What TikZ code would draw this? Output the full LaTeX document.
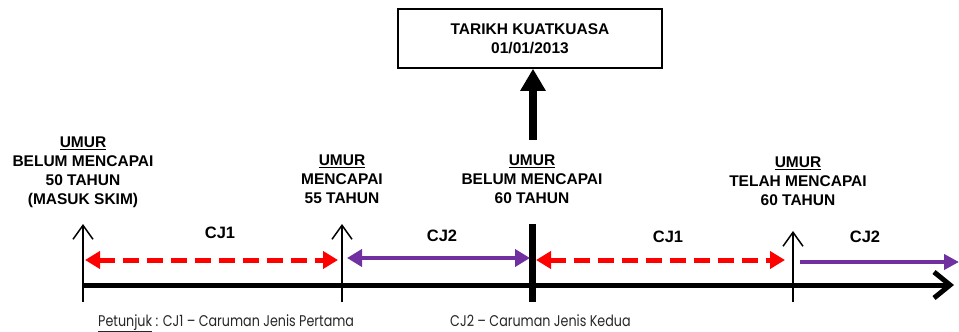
\documentclass[tikz,border=0pt]{standalone}
\usepackage{fontspec}
\setmainfont{Liberation Sans}
\newfontfamily\footfont{Poppins}
\usetikzlibrary{arrows.meta}
\definecolor{cjred}{HTML}{FF0000}
\definecolor{cjpurple}{HTML}{7030A0}
\begin{document}
\begin{tikzpicture}[x=1pt,y=-1pt,
  lbl/.style={font=\bfseries\fontsize{15.5}{19}\selectfont, align=center, inner sep=0pt},
  cjlbl/.style={font=\bfseries\fontsize{16.5}{19}\selectfont, inner sep=0pt},
  foot/.style={font=\footfont\fontsize{15.5}{16}\selectfont, inner sep=0pt, anchor=base west, text=black!85},
  tickarrow/.style={line width=1.5pt, -{Straight Barb[length=14pt,width=20pt,line width=1.5pt]}},
  redarrow/.style={cjred, line width=5pt, dash pattern=on 16pt off 8pt,
    {Triangle[length=15pt,width=17pt]}-{Triangle[length=15pt,width=17pt]}},
  purplearrow/.style={cjpurple, line width=4.5pt,
    {Triangle[length=15pt,width=17pt]}-{Triangle[length=15pt,width=17pt]}},
  purpleone/.style={cjpurple, line width=4pt, -{Triangle[length=15pt,width=15pt]}},
]
\useasboundingbox (0,0) rectangle (959,332);

% box
\node[draw, line width=1.5pt, minimum width=264pt, minimum height=59pt, lbl] (box) at (530,38.5)
  {TARIKH KUATKUASA\\01/01/2013};
\coordinate (upb) at (533,140);
\draw[line width=8pt, -{Triangle[length=22pt,width=24pt]}] (upb) -- (box.south -| upb);

% age labels
\node[lbl] (g1) at (83,172.5) {\underline{UMUR}\\BELUM MENCAPAI\\50 TAHUN\\(MASUK SKIM)};
\node[lbl] (g2) at (342,179) {\underline{UMUR}\\MENCAPAI\\55 TAHUN};
\node[lbl] (g3) at (532,179) {\underline{UMUR}\\BELUM MENCAPAI\\60 TAHUN};
\node[lbl] (g4) at (798,181) {\underline{UMUR}\\TELAH MENCAPAI\\60 TAHUN};

% ticks
\coordinate (t1b) at (83,302);  \coordinate (t1t) at (83,224);
\coordinate (t2b) at (342,302); \coordinate (t2t) at (342,224);
\coordinate (t3b) at (532,302); \coordinate (t3t) at (532,224);
\coordinate (t4b) at (793,302); \coordinate (t4t) at (793,231);
\draw[tickarrow] (t1b) -- (t1t);
\draw[tickarrow] (t2b) -- (t2t);
\draw[tickarrow] (t4b) -- (t4t);
\draw[line width=7pt] (t3b) -- (t3t);

% main axis
\coordinate (axl) at (83,285);
\coordinate (axr) at (954,285);
\draw[line width=5pt, -{Straight Barb[length=16pt,width=26pt,line width=5pt]}] (axl) -- (axr);

% period arrows
\coordinate (r1a) at (85,260);  \coordinate (r1b) at (338,260);
\coordinate (p1a) at (347,258); \coordinate (p1b) at (530,258);
\coordinate (r2a) at (536,260); \coordinate (r2b) at (785,260);
\coordinate (p2a) at (800,262); \coordinate (p2b) at (959,262);
\draw[redarrow] (r1a) -- (r1b);
\draw[purplearrow] (p1a) -- (p1b);
\draw[redarrow] (r2a) -- (r2b);
\draw[purpleone] (p2a) -- (p2b);

\node[cjlbl] (c1) at (220,233) {CJ1};
\node[cjlbl] (c2) at (442,236) {CJ2};
\node[cjlbl] (c3) at (668,237) {CJ1};
\node[cjlbl] (c4) at (865,237) {CJ2};

% footer
\node[foot] (f1) at (98,326) {\scalebox{0.82}[1]{\underline{Petunjuk} : CJ1 – Caruman Jenis Pertama}};
\node[foot] (f2) at (450,326) {\scalebox{0.82}[1]{CJ2 – Caruman Jenis Kedua}};
\end{tikzpicture}
\end{document}
